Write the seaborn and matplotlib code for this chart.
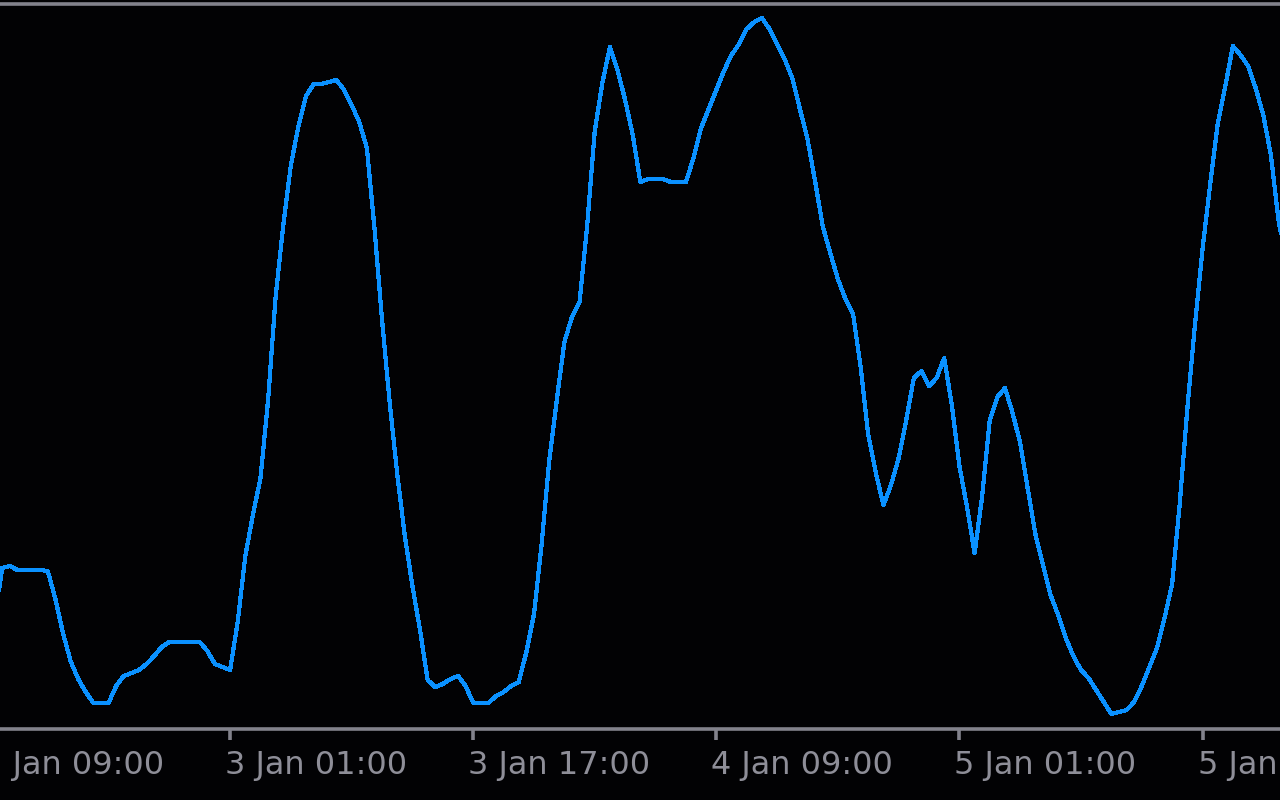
import matplotlib
matplotlib.use("Agg")
import matplotlib.pyplot as plt
import matplotlib.dates as mdates
import numpy as np
import pandas as pd
import seaborn as sns

# readings, one every 30 minutes, starting 2 Jan 09:30
start_time = "2024-01-02 09:30"
step = "30min"
levels = [
    109, 161, 163, 159, 159, 159, 159, 158, 130, 96, 68, 50,
    37, 26, 26, 26, 43, 53, 56, 59, 65, 73, 82, 87, 87, 87,
    87, 87, 78, 65, 62, 59, 107, 173, 214, 251, 329, 433, 504, 564,
    603, 633, 645, 645, 647, 649, 639, 624, 607, 581, 501, 409, 327, 255,
    193, 143, 99, 49, 42, 45, 50, 53, 43, 26, 26, 26, 33, 37,
    43, 47, 77, 115, 184, 268, 329, 387, 412, 427, 503, 598, 646, 682,
    659, 629, 594, 547, 550, 550, 550, 547, 547, 547, 571, 601, 620, 639,
    658, 674, 685, 700, 707, 711, 700, 685, 670, 651, 620, 590, 548, 503,
    476, 450, 430, 415, 362, 294, 256, 224, 244, 271, 309, 351, 358, 343,
    351, 371, 324, 263, 222, 176, 233, 309, 332, 341, 316, 286, 240, 195,
    164, 134, 114, 91, 73, 59, 51, 39, 27, 15, 17, 19, 27, 43,
    62, 81, 111, 145, 225, 320, 404, 480, 544, 605, 643, 683, 674, 663,
    641, 614, 574, 509, 469,
]
tick_labels = ["2 Jan 09:00", "3 Jan 01:00", "3 Jan 17:00", "4 Jan 09:00",
               "5 Jan 01:00", "5 Jan 17:00"]
tick_times = ["2024-01-02 09:00", "2024-01-03 01:00", "2024-01-03 17:00",
              "2024-01-04 09:00", "2024-01-05 01:00", "2024-01-05 17:00"]

df = pd.DataFrame({
    "time": pd.date_range(start_time, periods=len(levels), freq=step),
    "level": levels,
})

bg = "#020204"
grey = "#82828c"
sns.set_theme(style="dark", rc={
    "axes.facecolor": bg, "figure.facecolor": bg,
    "axes.edgecolor": grey, "text.color": "#8e8e98",
    "xtick.color": grey, "ytick.color": grey,
    "xtick.bottom": True,
})
plt.rcParams["font.family"] = ["DejaVu Sans"]

fig = plt.figure(figsize=(12.8, 8), dpi=100)
ax = fig.add_axes([0, 71 / 800, 1, 725 / 800])

sns.lineplot(data=df, x="time", y="level", ax=ax, color="#0a91ff",
             linewidth=2.3, legend=False)
for ln in ax.get_lines():
    ln.set_antialiased(False)

px_per_hour = 243.1 / 16
t0 = pd.Timestamp("2024-01-02 10:00") - pd.Timedelta(hours=2.2 / px_per_hour)
t1 = t0 + pd.Timedelta(hours=1280 / px_per_hour)
ax.set_xlim(t0, t1)
ax.set_ylim(0, 725)

for side in ["left", "right"]:
    ax.spines[side].set_visible(False)
for side in ["top", "bottom"]:
    ax.spines[side].set_linewidth(2.6)
    ax.spines[side].set_color(grey)

ticks = pd.to_datetime(tick_times)
ax.set_xticks(ticks[1:])
ax.set_xticklabels([])
ax.tick_params(axis="x", bottom=True, direction="out", length=8, width=2.6,
               color=grey)
ax.set_yticks([])
ax.set_xlabel("")
ax.set_ylabel("")
ax.grid(False)

# labels start just left of their tick mark
for t, lab in zip(ticks, tick_labels):
    x = mdates.date2num(t) - 5 / px_per_hour / 24
    ax.text(x, -0.029, lab, transform=ax.get_xaxis_transform(), ha="left",
            va="top", fontsize=23, color="#8e8e98", clip_on=False)

fig.savefig("out.png", dpi=100, facecolor=bg)
